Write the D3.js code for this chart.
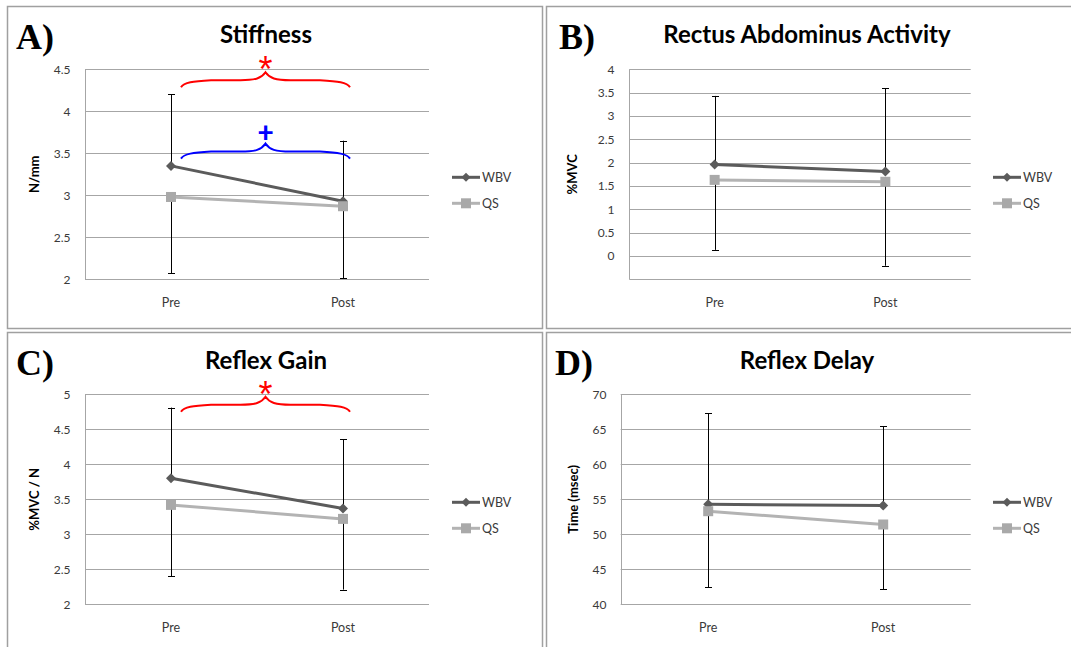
<!DOCTYPE html>
<html>
<head>
<meta charset="utf-8">
<script src="https://cdn.jsdelivr.net/npm/d3@7"></script>
<style>
  html, body { margin: 0; padding: 0; background: #fff; }
  svg { display: block; }
</style>
</head>
<body>
<svg id="fig" width="1071" height="647" font-family="Lato, 'Open Sans', sans-serif"></svg>
<script>
// ---- data -------------------------------------------------------------
const categories = ["Pre", "Post"];
const seriesNames = ["WBV", "QS"];

// Stiffness (N/mm)
const stiffnessWBV = [3.35, 2.93];
const stiffnessQS = [2.98, 2.87];
const stiffnessWBVErr = [0.85, 0.72];
const stiffnessQSErr = [0.91, 0.86];
const stiffnessTicks = [2, 2.5, 3, 3.5, 4, 4.5];

// Rectus Abdominus Activity (%MVC)
const rectusWBV = [1.96, 1.81];
const rectusQS = [1.63, 1.59];
const rectusWBVErr = [1.47, 1.78];
const rectusQSErr = [1.50, 1.80];
const rectusTicks = [0, 0.5, 1, 1.5, 2, 2.5, 3, 3.5, 4];

// Reflex Gain (%MVC / N)
const gainWBV = [3.80, 3.37];
const gainQS = [3.42, 3.22];
const gainWBVErr = [1.01, 0.99];
const gainQSErr = [1.02, 1.01];
const gainTicks = [2, 2.5, 3, 3.5, 4, 4.5, 5];

// Reflex Delay (msec)
const delayWBV = [54.3, 54.1];
const delayQS = [53.3, 51.4];
const delayWBVErr = [12.97, 11.33];
const delayQSErr = [10.87, 9.26];
const delayTicks = [40, 45, 50, 55, 60, 65, 70];

// ---- layout -----------------------------------------------------------
const panels = [
  { tag: "A)", title: "Stiffness", ylabel: "N/mm",
    wbv: stiffnessWBV, qs: stiffnessQS, wbvErr: stiffnessWBVErr, qsErr: stiffnessQSErr,
    ticks: stiffnessTicks, domain: [2, 4.5],
    frame: { x: 7, y: 6, w: 535, h: 322 },
    plot: { l: 85, r: 429, t: 69.3, b: 279.3 },
    tagX: 16, titleX: 266, ylabelX: 35, legendX: 452,
    braces: [ { sym: "*", color: "#ff0000", level: 4.37 },
              { sym: "+", color: "#0000ff", level: 3.52 } ] },
  { tag: "B)", title: "Rectus Abdominus Activity", ylabel: "%MVC",
    wbv: rectusWBV, qs: rectusQS, wbvErr: rectusWBVErr, qsErr: rectusQSErr,
    ticks: rectusTicks, domain: [-0.5, 4],
    frame: { x: 546, y: 6, w: 540, h: 322 },
    plot: { l: 629.3, r: 970.7, t: 69.3, b: 279.3 },
    tagX: 559, titleX: 807, ylabelX: 573, legendX: 993,
    braces: [] },
  { tag: "C)", title: "Reflex Gain", ylabel: "%MVC / N",
    wbv: gainWBV, qs: gainQS, wbvErr: gainWBVErr, qsErr: gainQSErr,
    ticks: gainTicks, domain: [2, 5],
    frame: { x: 7, y: 332, w: 535, h: 340 },
    plot: { l: 85, r: 429, t: 394.3, b: 604.3 },
    tagX: 16, titleX: 266, ylabelX: 35, legendX: 452,
    braces: [ { sym: "*", color: "#ff0000", level: 4.85 } ] },
  { tag: "D)", title: "Reflex Delay", ylabel: "Time (msec)",
    wbv: delayWBV, qs: delayQS, wbvErr: delayWBVErr, qsErr: delayQSErr,
    ticks: delayTicks, domain: [40, 70],
    frame: { x: 546, y: 332, w: 540, h: 340 },
    plot: { l: 620.7, r: 970.7, t: 394.3, b: 604.3 },
    tagX: 555, titleX: 807, ylabelX: 574, legendX: 993,
    braces: [] }
];

const WBV_COLOR = "#5b5b5b";
const QS_COLOR = "#b3b3b3";
const QS_MARK = "#a9a9a9";
const GRID = "#a6a6a6";
const SANS = "Lato, 'Open Sans', sans-serif";

const svg = d3.select("#fig");

function diamond(x, y, r) {
  return `M${x},${y - r}L${x + r},${y}L${x},${y + r}L${x - r},${y}Z`;
}

function bracePath(x0, x1, y0) {
  const xc = (x0 + x1) / 2;
  return `M${x0},${y0 + 7}` +
    `C${x0 + 3},${y0 + 2} ${x0 + 12},${y0 + 1} ${x0 + 30},${y0}` +
    `L${xc - 25},${y0}` +
    `C${xc - 10},${y0} ${xc - 4},${y0 - 2} ${xc},${y0 - 8}` +
    `C${xc + 4},${y0 - 2} ${xc + 10},${y0} ${xc + 25},${y0}` +
    `L${x1 - 30},${y0}` +
    `C${x1 - 12},${y0 + 1} ${x1 - 3},${y0 + 2} ${x1},${y0 + 7}`;
}

panels.forEach(p => {
  const g = svg.append("g");
  const f = p.frame;

  // panel frame
  g.append("rect")
    .attr("x", f.x + 0.5).attr("y", f.y + 0.5)
    .attr("width", f.w).attr("height", f.h)
    .attr("fill", "none").attr("stroke", "#a0a0a0").attr("stroke-width", 1.5);

  const x = d3.scaleBand().domain(categories).range([p.plot.l, p.plot.r]);
  const y = d3.scaleLinear().domain(p.domain).range([p.plot.b, p.plot.t]);
  const cx = c => x(c) + x.bandwidth() / 2;

  // horizontal gridlines (including the bottom edge)
  const gridVals = d3.range(p.domain[0], p.domain[1] + 1e-9, p.ticks[1] - p.ticks[0]);
  g.append("g").selectAll("line").data(gridVals).join("line")
    .attr("x1", p.plot.l).attr("x2", p.plot.r)
    .attr("y1", d => Math.round(y(d)) + 0.5).attr("y2", d => Math.round(y(d)) + 0.5)
    .attr("stroke", GRID).attr("stroke-width", 1);

  // value axis via d3.axisLeft, styled as plain labels
  const axis = g.append("g")
    .attr("transform", `translate(${Math.round(p.plot.l) + 0.5},0)`)
    .call(d3.axisLeft(y).tickValues(p.ticks).tickSize(0).tickPadding(15)
      .tickFormat(d3.format("")));
  axis.select(".domain").attr("stroke", GRID).attr("d", `M0,${p.plot.t}V${p.plot.b}`);
  axis.selectAll("text")
    .attr("font-family", SANS).attr("font-size", 12)
    .attr("fill", "#3a3a3a");

  // category labels
  g.append("g").selectAll("text").data(categories).join("text")
    .attr("x", d => cx(d)).attr("y", p.plot.b + 28)
    .attr("text-anchor", "middle").attr("font-size", 12.5).attr("fill", "#3a3a3a")
    .text(d => d);

  // error bars: WBV upward, QS downward
  const bars = [];
  categories.forEach((c, i) => {
    bars.push({ c, from: p.wbv[i], to: p.wbv[i] + p.wbvErr[i] });
    bars.push({ c, from: p.qs[i], to: p.qs[i] - p.qsErr[i] });
  });
  const eb = g.append("g").attr("stroke", "#000").attr("stroke-width", 1);
  eb.selectAll("line.v").data(bars).join("line").attr("class", "v")
    .attr("x1", d => Math.round(cx(d.c)) + 0.5).attr("x2", d => Math.round(cx(d.c)) + 0.5)
    .attr("y1", d => y(d.from)).attr("y2", d => y(d.to));
  eb.selectAll("line.cap").data(bars).join("line").attr("class", "cap")
    .attr("x1", d => Math.round(cx(d.c)) - 3).attr("x2", d => Math.round(cx(d.c)) + 4)
    .attr("y1", d => Math.round(y(d.to)) + 0.5).attr("y2", d => Math.round(y(d.to)) + 0.5);

  // series lines and markers
  const line = d3.line().x((d, i) => cx(categories[i])).y(d => y(d));
  g.append("path").datum(p.wbv).attr("d", line)
    .attr("fill", "none").attr("stroke", WBV_COLOR).attr("stroke-width", 3);
  g.append("g").selectAll("path").data(p.wbv).join("path")
    .attr("d", (d, i) => diamond(cx(categories[i]), y(d), 5))
    .attr("fill", WBV_COLOR);
  g.append("path").datum(p.qs).attr("d", line)
    .attr("fill", "none").attr("stroke", QS_COLOR).attr("stroke-width", 3);
  g.append("g").selectAll("rect").data(p.qs).join("rect")
    .attr("x", (d, i) => cx(categories[i]) - 5).attr("y", d => y(d) - 5)
    .attr("width", 10).attr("height", 10).attr("fill", QS_MARK);

  // significance braces
  p.braces.forEach(b => {
    const x0 = cx(categories[0]) + 10, x1 = cx(categories[1]) + 7;
    const yb = y(b.level);
    g.append("path").attr("d", bracePath(x0, x1, yb))
      .attr("fill", "none").attr("stroke", b.color).attr("stroke-width", 2);
    const xm = (x0 + x1) / 2;
    if (b.sym === "*") {
      g.append("text").attr("x", xm).attr("y", yb + 2)
        .attr("text-anchor", "middle")
        .style("font-family", "'Liberation Sans', Arial, sans-serif")
        .attr("font-size", 36)
        .attr("fill", b.color).text("*");
    } else {
      g.append("text").attr("x", xm).attr("y", yb - 10)
        .attr("text-anchor", "middle").attr("font-size", 28).attr("font-weight", 900)
        .attr("fill", b.color).text("+");
    }
  });

  // titles
  g.append("text").attr("x", p.titleX).attr("y", f.y + 37)
    .attr("text-anchor", "middle").attr("font-size", 24).attr("font-weight", 700)
    .attr("fill", "#000").text(p.title);
  g.append("text").attr("x", p.tagX).attr("y", f.y + 42.5)
    .style("font-family", "'Liberation Serif', 'Times New Roman', serif")
    .attr("font-size", 36).attr("font-weight", 700).attr("fill", "#000").text(p.tag);

  // value-axis title
  const yc = (p.plot.t + p.plot.b) / 2;
  g.append("text")
    .attr("transform", `translate(${p.ylabelX + 4},${yc}) rotate(-90)`)
    .attr("text-anchor", "middle").attr("font-size", 13).attr("font-weight", 700)
    .attr("fill", "#000").text(p.ylabel);

  // legend
  const lg = g.append("g");
  seriesNames.forEach((s, i) => {
    const ly = yc + 3 + i * 26;
    const lx = p.legendX;
    lg.append("line").attr("x1", lx).attr("x2", lx + 28)
      .attr("y1", ly).attr("y2", ly)
      .attr("stroke", i === 0 ? WBV_COLOR : QS_COLOR).attr("stroke-width", 3);
    if (i === 0) {
      lg.append("path").attr("d", diamond(lx + 14, ly, 4.5)).attr("fill", WBV_COLOR);
    } else {
      lg.append("rect").attr("x", lx + 9).attr("y", ly - 5)
        .attr("width", 10).attr("height", 10).attr("fill", QS_MARK);
    }
    lg.append("text").attr("x", lx + 30).attr("y", ly + 4.5)
      .attr("font-size", 12.5).attr("fill", "#3a3a3a").text(s);
  });
});
</script>
</body>
</html>
